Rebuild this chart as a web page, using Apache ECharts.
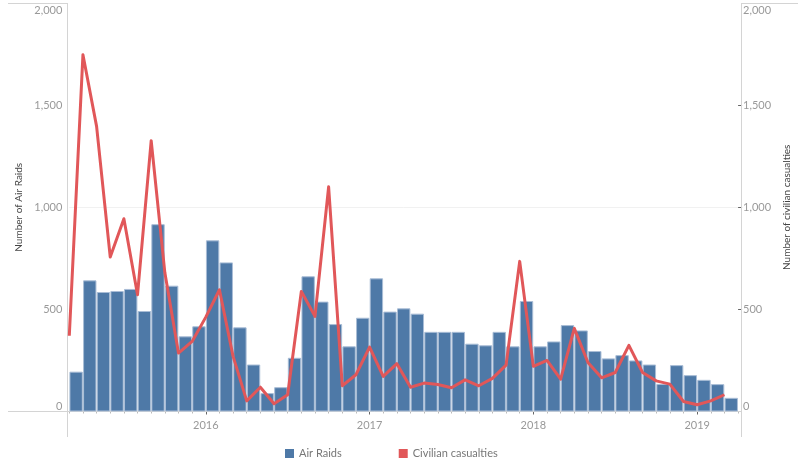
<!DOCTYPE html>
<html>
<head>
<meta charset="utf-8">
<title>Air Raids and Civilian casualties</title>
<script src="https://cdn.jsdelivr.net/npm/echarts@6/dist/echarts.min.js"></script>
<style>
  html, body { margin: 0; padding: 0; background: #fff; }
  #chart { width: 800px; height: 472px; }
</style>
</head>
<body>
<div id="chart"></div>
<script>
// monthly values, March 2015 to March 2019
var airRaids = [195, 642, 585, 590, 600, 492, 917, 616, 368, 417,
  838, 730, 412, 230, 90, 119, 263, 662, 538, 428, 319, 459,
  652, 489, 505, 479, 390, 390, 390, 332, 324, 390, 319, 541,
  319, 343, 423, 397, 296, 260, 276, 250, 230, 135, 227, 178,
  155, 134, 67];
var casualties = [371, 1747, 1396, 756, 944, 572, 1326, 680, 286, 343,
  462, 596, 270, 52, 119, 38, 82, 588, 466, 1100, 126, 180,
  315, 172, 234, 119, 139, 132, 116, 155, 126, 162, 227, 735,
  221, 250, 158, 407, 240, 165, 191, 324, 191, 150, 134, 49,
  33, 52, 82];
var months = airRaids.map(function(v, i) { return String(i); });
var yearLabels = ['2016', '2017', '2018', '2019'];
var yearIndex = [10, 22, 34, 46];
var rightTicks = [500, 1000, 1500];

var FONT = 'Lato, sans-serif';
var GREY = '#999';
var RULE = '#d4d4d4';

function fmt(v) {
  var s = echarts.format.addCommas(v);
  return v == 2000 ? '{top|' + s + '}' : s;
}

function yAxis(name, side, nameGap) {
  return {
    type: 'value',
    position: side,
    min: 0,
    max: 2000,
    interval: 500,
    name: name,
    nameLocation: 'middle',
    nameGap: nameGap,
    nameTextStyle: { color: '#444', fontFamily: FONT, fontSize: 10 },
    axisLine: { show: false },
    axisTick: { show: side == 'right', length: 4, customValues: rightTicks, lineStyle: { color: '#666' } },
    axisLabel: {
      color: GREY,
      fontFamily: FONT,
      fontSize: 11,
      margin: side == 'right' ? 5 : 7,
      formatter: fmt,
      verticalAlignMinLabel: 'bottom',
      verticalAlignMaxLabel: 'top',
      rich: {
        top: { color: GREY, fontFamily: FONT, fontSize: 11, padding: [2, 0, 0, 0] }
      }
    },
    splitLine: {
      show: side == 'left',
      showMinLine: false,
      showMaxLine: false,
      lineStyle: { color: '#f1f1f1', width: 1 }
    }
  };
}

function rule(x1, y1, x2, y2) {
  return {
    type: 'line',
    silent: true,
    z: 1,
    shape: { x1: x1, y1: y1, x2: x2, y2: y2 },
    style: { stroke: RULE, lineWidth: 1 }
  };
}

var myChart = echarts.init(document.getElementById('chart'), null, { renderer: 'canvas' });

myChart.setOption({
  animation: false,
  backgroundColor: '#fff',
  grid: { left: 69.3, right: 60.1, top: 3, bottom: 60.5, containLabel: false },
  legend: {
    left: 280,
    top: 443,
    itemWidth: 9,
    itemHeight: 9,
    itemGap: 57,
    textStyle: { color: '#777', fontFamily: FONT, fontSize: 11 },
    data: [
      { name: 'Air Raids', icon: 'rect', itemStyle: { borderWidth: 0 } },
      { name: 'Civilian casualties', icon: 'rect' }
    ]
  },
  xAxis: [{
    type: 'category',
    data: months,
    position: 'bottom',
    splitLine: { show: false },
    axisLine: { show: false, onZero: false },
    axisTick: { show: true, length: 2, interval: 0, lineStyle: { color: '#bbb' } },
    axisLabel: { show: false }
  }, {
    type: 'value',
    min: 0,
    max: months.length,
    position: 'bottom',
    splitLine: { show: false },
    axisLine: { show: false, onZero: false },
    axisTick: { show: true, length: 3, customValues: yearIndex, lineStyle: { color: '#666' } },
    axisLabel: {
      color: GREY,
      fontFamily: FONT,
      fontSize: 11,
      margin: 8,
      customValues: yearIndex,
      formatter: function(v) { return yearLabels[yearIndex.indexOf(v)]; }
    }
  }],
  yAxis: [
    yAxis('Number of Air Raids', 'left', 34),
    yAxis('Number of civilian casualties', 'right', 41)
  ],
  series: [{
    name: 'Air Raids',
    type: 'bar',
    xAxisIndex: 0,
    yAxisIndex: 0,
    barWidth: '98%',
    itemStyle: { color: '#4e79a7', borderColor: '#a9bdd6', borderWidth: 1 },
    data: airRaids
  }, {
    name: 'Civilian casualties',
    type: 'line',
    xAxisIndex: 1,
    yAxisIndex: 1,
    symbol: 'none',
    z: 5,
    lineStyle: { color: '#e15759', width: 3, join: 'round' },
    itemStyle: { color: '#e15759' },
    // tableau puts the line on the left edge of each month band
    data: casualties.map(function(v, i) { return [i, v]; })
  }],
  graphic: [
    rule(67.5, 3, 67.5, 437),
    rule(741.5, 3, 741.5, 437),
    rule(8, 3.5, 67, 3.5),
    rule(741, 3.5, 798, 3.5),
    rule(8, 411.5, 741, 411.5)
  ]
});
</script>
</body>
</html>
